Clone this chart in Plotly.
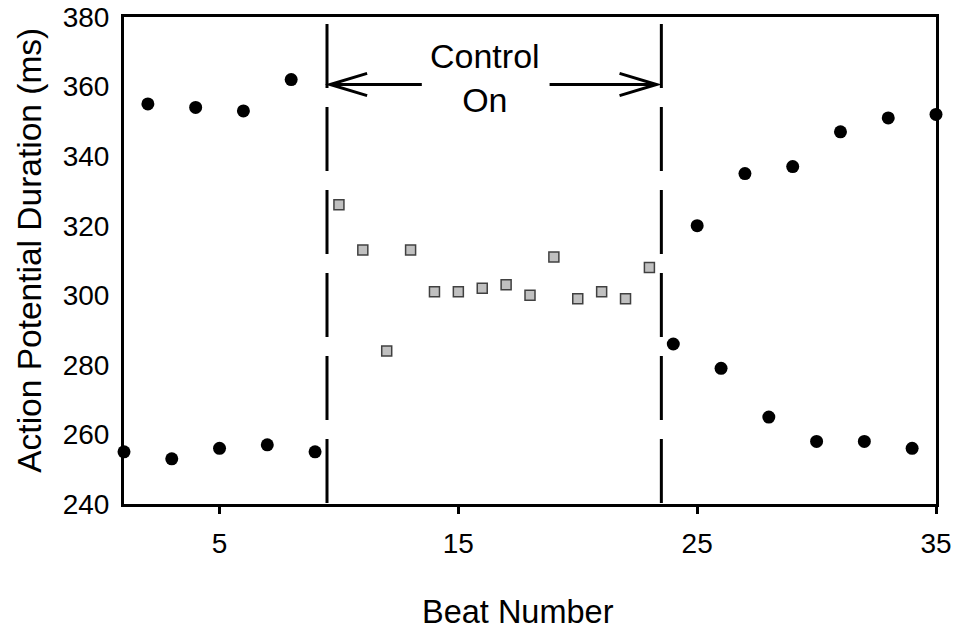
import plotly.graph_objects as go

# Data
off_beats = [1, 2, 3, 4, 5, 6, 7, 8, 9, 24, 25, 26, 27, 28, 29, 30, 31, 32, 33, 34, 35]
off_apd = [255, 355, 253, 354, 256, 353, 257, 362, 255, 286, 320, 279, 335, 265, 337, 258, 347, 258, 351, 256, 352]
on_beats = [10, 11, 12, 13, 14, 15, 16, 17, 18, 19, 20, 21, 22, 23]
on_apd = [326, 313, 284, 313, 301, 301, 302, 303, 300, 311, 299, 301, 299, 308]

x_ticks = [5, 15, 25, 35]
y_ticks = [240, 260, 280, 300, 320, 340, 360, 380]
control_start, control_end = 9.5, 23.5

FONT = "Liberation Sans"

fig = go.Figure()
fig.add_trace(go.Scatter(
    x=off_beats, y=off_apd, mode="markers",
    marker=dict(symbol="circle", size=13, color="black", line=dict(width=0)),
    cliponaxis=False, showlegend=False))
fig.add_trace(go.Scatter(
    x=on_beats, y=on_apd, mode="markers",
    marker=dict(symbol="square", size=10, color="#c0c0c0", line=dict(width=1.5, color="#404040")),
    cliponaxis=False, showlegend=False))

# dashed vertical lines
for xv in (control_start, control_end):
    fig.add_shape(type="line", xref="x", yref="y", x0=xv, x1=xv, y0=378, y1=240,
                  line=dict(color="black", width=3, dash="64px,19px"), layer="above")

# arrows
arrow_y = 360.6
hl, hh = 1.55, 3.2
left_tip, left_tail = 9.63, 13.47
right_tail, right_tip = 18.82, 23.3
paths = [
    f"M {left_tail},{arrow_y} L {left_tip},{arrow_y} M {left_tip+hl},{arrow_y+hh} L {left_tip},{arrow_y} L {left_tip+hl},{arrow_y-hh}",
    f"M {right_tail},{arrow_y} L {right_tip},{arrow_y} M {right_tip-hl},{arrow_y+hh} L {right_tip},{arrow_y} L {right_tip-hl},{arrow_y-hh}",
]
for p in paths:
    fig.add_shape(type="path", xref="x", yref="y", path=p,
                  line=dict(color="black", width=3))

fig.add_annotation(x=16.1, y=362.5, xref="x", yref="y", text="Control<br>On", showarrow=False,
                   font=dict(family=FONT, size=34, color="black"), align="center")

# axis titles
fig.add_annotation(x=0.485, y=-0.222, xref="paper", yref="paper", text="Beat Number",
                   showarrow=False, xanchor="center", yanchor="middle",
                   font=dict(family=FONT, size=32.5, color="black"))
fig.add_annotation(x=-0.1158, y=0.522, xref="paper", yref="paper", text="Action Potential Duration (ms)",
                   showarrow=False, xanchor="center", yanchor="middle", textangle=-90,
                   font=dict(family=FONT, size=33.5, color="black"))

fig.update_xaxes(range=[1, 35], tickvals=x_ticks, ticks="outside", ticklen=7, tickwidth=2.5,
                 tickcolor="black", showline=True, linecolor="black", linewidth=3, mirror=True,
                 showgrid=False, zeroline=False, automargin=False, ticklabelstandoff=5,
                 tickfont=dict(family=FONT, size=28, color="black"))
fig.update_yaxes(range=[240, 380], tickvals=y_ticks, ticks="", showline=True, linecolor="black",
                 linewidth=3, mirror=True, showgrid=False, zeroline=False, ticklabelstandoff=6,
                 automargin=False,
                 tickfont=dict(family=FONT, size=28, color="black"))

fig.update_layout(width=954, height=633, margin=dict(l=124, r=18, t=17, b=129),
                  plot_bgcolor="white", paper_bgcolor="white")

fig.write_html("out.html")
